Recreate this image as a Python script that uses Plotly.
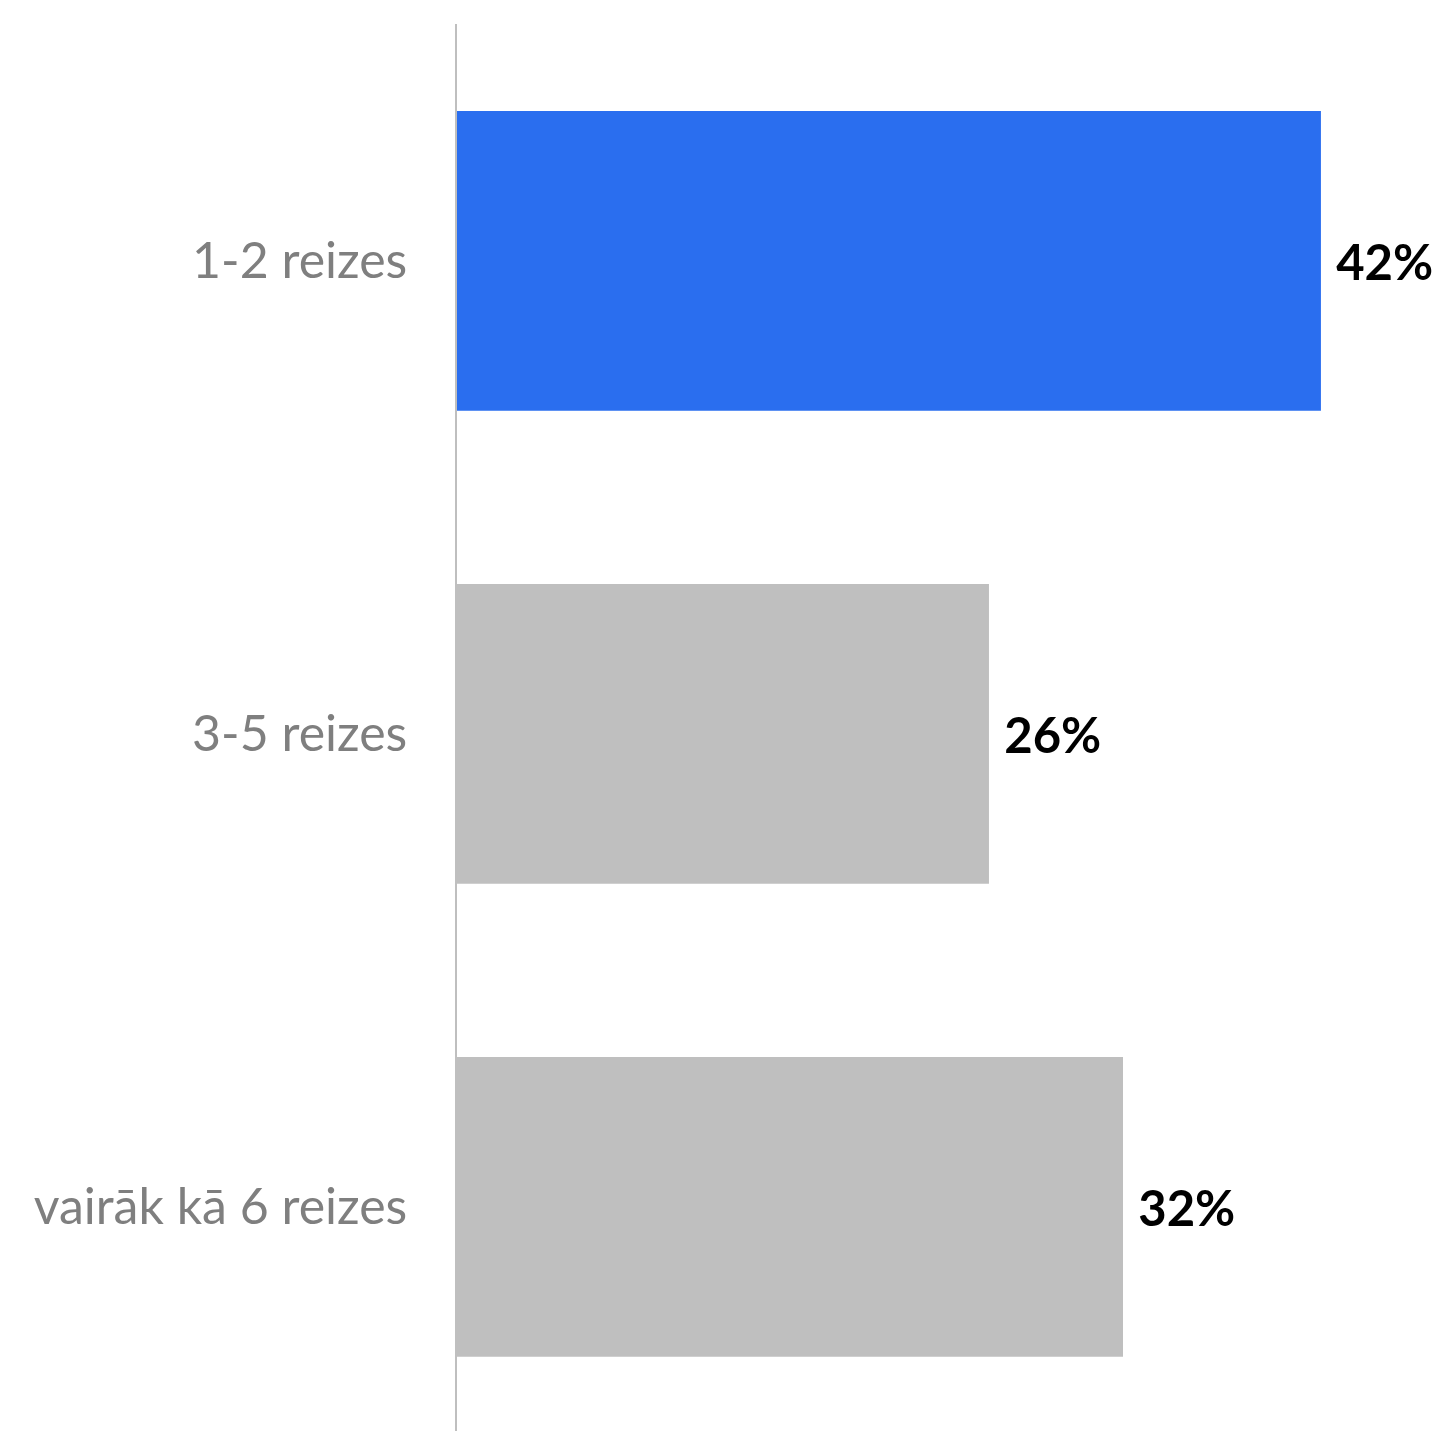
import plotly.graph_objects as go

categories = ["1-2 reizes", "3-5 reizes", "vairāk kā 6 reizes"]
values = [41.9, 25.8, 32.3]
labels = ["42%", "26%", "32%"]
colors = ["#2A6EEF", "#BFBFBF", "#BFBFBF"]

fig = go.Figure(go.Bar(
    x=values, y=categories, orientation="h",
    marker=dict(color=colors, line=dict(width=0)),
    width=0.634,
    text=["\u2009\u2009" + t for t in labels], textposition="outside",
    textfont=dict(family="Lato", size=49, color="#000000", weight="bold"),
    cliponaxis=False,
))

fig.update_layout(
    width=1442, height=1423,
    margin=dict(l=449, r=0, t=16, b=0),
    paper_bgcolor="white", plot_bgcolor="white",
    showlegend=False,
    xaxis=dict(range=[0, 48.16], visible=False),
    yaxis=dict(range=[2.474, -0.501], showline=True, linecolor="#BFBFBF", linewidth=1.5,
               ticks="", ticklabelstandoff=38, showgrid=False,
               tickfont=dict(family="Lato", size=50, color="#7F7F7F")),
)

fig.write_html("out.html")
